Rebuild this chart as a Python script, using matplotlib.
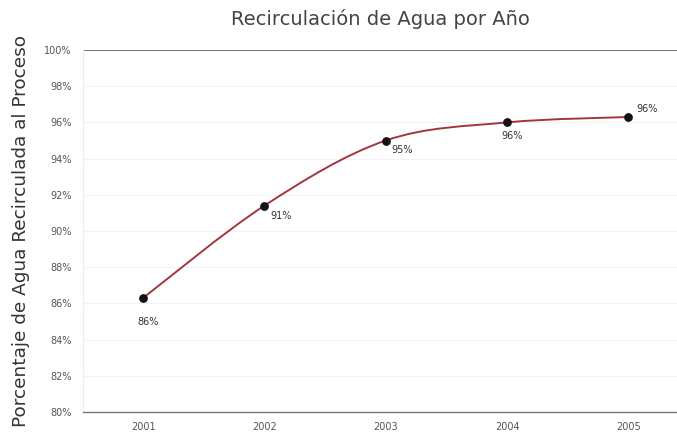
import numpy as np
import matplotlib.pyplot as plt
from matplotlib.path import Path
from matplotlib.patches import PathPatch

plt.rcParams['font.family'] = ['DejaVu Sans']

# datos
anios = [2001, 2002, 2003, 2004, 2005]
porcentaje = [86.3, 91.4, 95.0, 96.0, 96.3]
etiquetas = ['86%', '91%', '95%', '96%', '96%']
yticks = [80, 82, 84, 86, 88, 90, 92, 94, 96, 98, 100]

fig = plt.figure(figsize=(6.77, 4.32), dpi=100)
ax = fig.add_axes([83 / 677, 20 / 432, 594 / 677, 362 / 432])

# curva suavizada (bezier tipo catmull-rom entre los puntos)
x = np.array(anios, dtype=float)
y = np.array(porcentaje)
verts = [(x[0], y[0])]
codes = [Path.MOVETO]
for i in range(len(x) - 1):
    p0 = (x[i - 1], y[i - 1]) if i > 0 else (x[i], y[i])
    p1 = (x[i], y[i])
    p2 = (x[i + 1], y[i + 1])
    p3 = (x[i + 2], y[i + 2]) if i + 2 < len(x) else (x[i + 1], y[i + 1])
    c1 = (p1[0] + (p2[0] - p0[0]) / 6, p1[1] + (p2[1] - p0[1]) / 6)
    c2 = (p2[0] - (p3[0] - p1[0]) / 6, p2[1] - (p3[1] - p1[1]) / 6)
    verts += [c1, c2, p2]
    codes += [Path.CURVE4] * 3
ax.add_patch(PathPatch(Path(verts, codes), facecolor='none', edgecolor='#a3353f', lw=1.4, zorder=3))
ax.scatter(anios, porcentaje, s=28, color='#141414', zorder=4)

offsets = [(-4, -14, 'left', 'top'), (4, -4, 'left', 'top'), (4, -3, 'left', 'top'),
           (-4, -6, 'left', 'top'), (6, 2, 'left', 'bottom')]
for xi, yi, t, (dx, dy, ha, va) in zip(anios, porcentaje, etiquetas, offsets):
    ax.annotate(t, (xi, yi), xytext=(dx, dy), textcoords='offset points',
                ha=ha, va=va, fontsize=7, color='#333333')

ax.set_xlim(2000.505, 2005.40)
ax.set_ylim(80, 100)
ax.set_xticks(anios)
ax.set_xticklabels([str(a) for a in anios])
ax.set_yticks(yticks)
ax.set_yticklabels([f'{v}%' for v in yticks])
ax.tick_params(axis='both', labelsize=7, colors='#555555', length=0, pad=8)
ax.tick_params(axis='x', pad=7)

for v in yticks[1:-1]:
    ax.axhline(v, color='#f3f3f3', lw=0.8, zorder=0)
ax.axhline(100, color='#555a66', lw=1.2, zorder=2)

for s in ['top', 'right']:
    ax.spines[s].set_visible(False)
ax.spines['left'].set_color('#eeeeee')
ax.spines['bottom'].set_color('#777777')
ax.spines['bottom'].set_linewidth(1.0)

ax.set_title('Recirculación de Agua por Año', fontsize=14, color='#444444', pad=18)
ax.set_ylabel('Porcentaje de Agua Recirculada al Proceso', fontsize=13.3, color='#333333', labelpad=10)

fig.savefig('out.png', dpi=100)
